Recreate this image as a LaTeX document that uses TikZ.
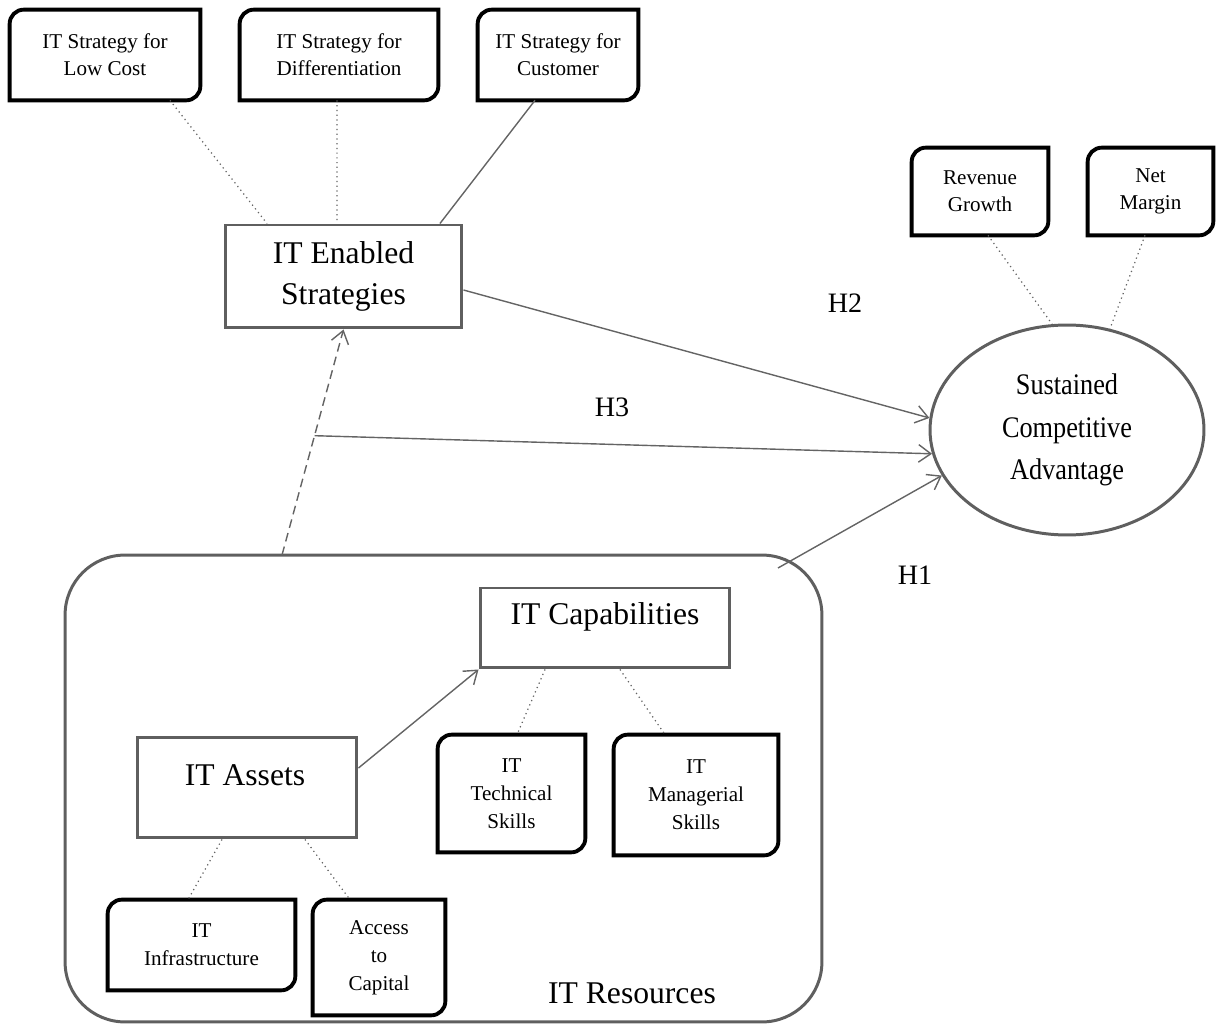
\documentclass[tikz,border=0pt]{standalone}
\usepackage{fontspec}
\setmainfont{Liberation Serif}
\newfontfamily\condfont[FakeStretch=0.88]{Liberation Serif}
\usetikzlibrary{arrows.meta,shapes.geometric,calc}
\definecolor{boxgray}{RGB}{95,95,95}
\definecolor{linegray}{RGB}{100,100,100}
\newcommand\cornerbox[1]{%
  \draw[line width=2.2pt,black,line join=miter]
    ([yshift=-8pt]#1.north west) arc[start angle=180,end angle=90,radius=8pt]
    -- (#1.north east) -- ([yshift=8pt]#1.south east)
    arc[start angle=0,end angle=-90,radius=8pt] -- (#1.south west) -- cycle;}
\tikzset{
  sbox/.style={inner sep=0pt, align=center, font=\fontsize{12}{15.5}\selectfont},
  sboxb/.style={inner sep=0pt, align=center, font=\fontsize{12}{16}\selectfont},
  gbox/.style={draw=boxgray, line width=1.7pt, inner sep=0pt, align=center, font=\fontsize{18}{23.5}\selectfont},
  bigtext/.style={inner sep=0pt, font=\fontsize{18}{23.5}\selectfont},
  hlabel/.style={inner sep=0pt, font=\fontsize{16}{19}\selectfont},
  conn/.style={draw=linegray, line width=0.8pt},
  dotconn/.style={draw=linegray, line width=0.7pt, dotted},
  arr/.style={conn, -{Straight Barb[length=7pt,width=10pt,line width=0.8pt]}},
}
\begin{document}
\begin{tikzpicture}[x=0.02cm,y=-0.02cm]
\useasboundingbox (0,0) rectangle (1217,1026);
% top small boxes
\node[sbox, minimum width=3.8cm, minimum height=1.8cm] (lc) at (105,55) {IT Strategy for\\Low Cost};
\node[sbox, minimum width=3.96cm, minimum height=1.8cm] (dif) at (339,55) {IT Strategy for\\Differentiation};
\node[sbox, minimum width=3.2cm, minimum height=1.8cm] (cus) at (558,55) {IT Strategy for\\Customer};
\node[sbox, minimum width=2.72cm, minimum height=1.74cm] (rev) at (980,191.5) {Revenue\\Growth};
\node[sbox, minimum width=2.5cm, minimum height=1.74cm] (nm) at (1150.5,191.5) {Net\\Margin};
\cornerbox{lc}\cornerbox{dif}\cornerbox{cus}\cornerbox{rev}\cornerbox{nm}
% IT enabled strategies
\node[gbox, minimum width=4.74cm, minimum height=2.06cm] (ites) at (343.5,276.5) {IT Enabled\\Strategies};
% ellipse
\node[ellipse, draw=boxgray, line width=1.7pt, inner sep=0pt, minimum width=5.48cm, minimum height=4.2cm, align=center, font=\condfont\fontsize{17}{24}\selectfont] (sca) at (1067,430) {Sustained\\Competitive\\Advantage};
% IT resources
\node[draw=boxgray, line width=1.7pt, rounded corners=1.2cm, minimum width=15.14cm, minimum height=9.34cm, inner sep=0pt] (res) at (443.5,788.5) {};
\node[bigtext] (rest) at (632,993) {IT Resources};
\node[gbox, minimum width=5cm, minimum height=1.6cm] (capb) at (605,628) {};
\node[bigtext] (capt) at (605,617) {IT Capabilities};
\node[gbox, minimum width=4.4cm, minimum height=2.02cm] (asb) at (247,787.5) {};
\node[bigtext] (ast) at (245,775) {IT Assets};
\node[sboxb, minimum width=2.94cm, minimum height=2.34cm] (tech) at (511.5,793.5) {IT\\Technical\\Skills};
\node[sboxb, minimum width=3.28cm, minimum height=2.4cm] (man) at (696,795) {IT\\Managerial\\Skills};
\node[sboxb, minimum width=3.74cm, minimum height=1.8cm] (inf) at (201.5,945) {IT\\Infrastructure};
\node[sboxb, minimum width=2.64cm, minimum height=2.3cm] (acc) at (379,957.5) {Access\\to\\Capital};
\cornerbox{tech}\cornerbox{man}\cornerbox{inf}\cornerbox{acc}
% labels
\node[hlabel] (h2) at (845,303) {H2};
\node[hlabel] (h3) at (612,407) {H3};
\node[hlabel] (h1) at (915,575) {H1};
% coordinates
\coordinate (dstart) at (282,555);
\coordinate (h1s) at (778,568);
\coordinate (h3s) at ($(dstart)!0.529!(ites.south)$);
% connectors to top boxes
\draw[dotconn] ([xshift=1.3cm]lc.south) -- ([xshift=-1.53cm]ites.north);
\draw[dotconn] ([xshift=-0.04cm]dif.south) -- ([xshift=-0.13cm]ites.north);
\draw[conn] ([xshift=-0.46cm]cus.south) -- ([xshift=1.93cm]ites.north);
\draw[dotconn] ([xshift=0.16cm]rev.south) -- (sca.98);
\draw[dotconn] ([xshift=-0.11cm]nm.south) -- (sca.67);
% hypotheses
\draw[arr] ([yshift=-0.27cm]ites.east) -- (sca.175);
\draw[arr] (h3s) -- (sca.190);
\draw[arr] (h1s) -- (sca.200);
\draw[arr, dash pattern=on 5pt off 3pt] (dstart) -- (ites.south);
% inside resources
\draw[arr] ([yshift=0.39cm]asb.east) -- (capb.south west);
\draw[dotconn] ([xshift=-1.2cm]capb.south) -- ([xshift=0.11cm]tech.north);
\draw[dotconn] ([xshift=0.3cm]capb.south) -- ([xshift=-0.62cm]man.north);
\draw[dotconn] ([xshift=-0.5cm]asb.south) -- ([xshift=-0.27cm]inf.north);
\draw[dotconn] ([xshift=1.16cm]asb.south) -- ([xshift=-0.58cm]acc.north);
\end{tikzpicture}
\end{document}
